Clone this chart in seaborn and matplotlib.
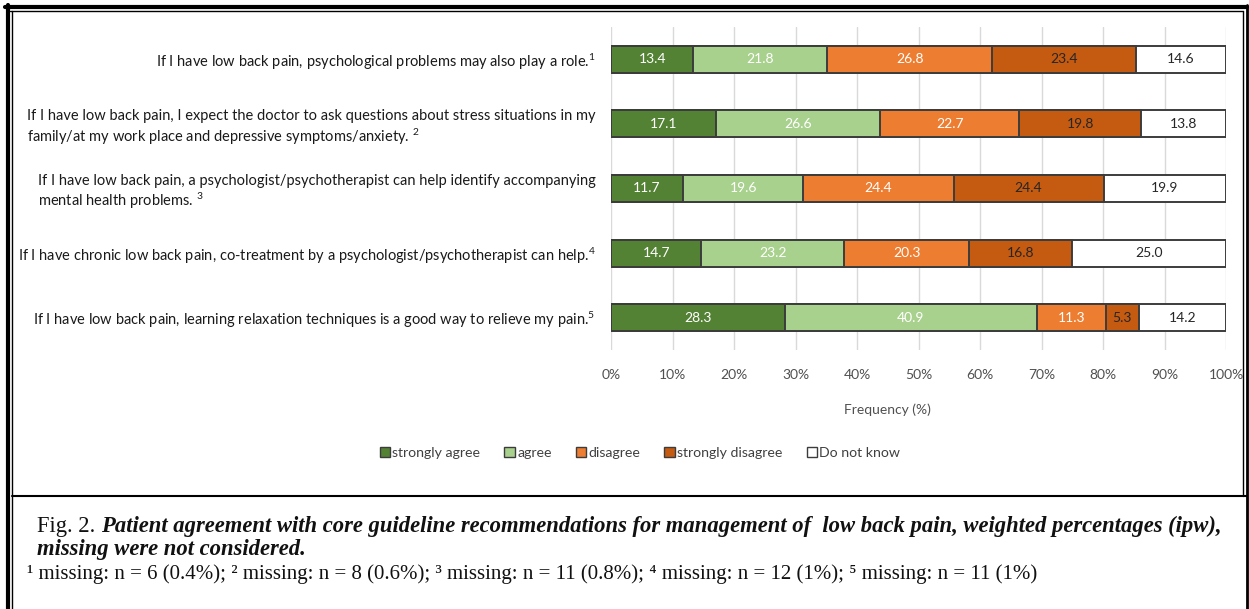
import matplotlib
matplotlib.use("Agg")
import matplotlib.pyplot as plt
from matplotlib.patches import Patch
from matplotlib.lines import Line2D
import seaborn as sns
import numpy as np
import pandas as pd

sns.set_style("white")
plt.rcParams['font.family'] = ['Lato', 'DejaVu Sans']
plt.rcParams['mathtext.fontset'] = 'custom'
plt.rcParams['mathtext.rm'] = 'Lato'
plt.rcParams['mathtext.it'] = 'Lato'

statements = [
    "If I have low back pain, psychological problems may also play a role.$^{1}$",
    "If I have low back pain, I expect the doctor to ask questions about stress situations in my\nfamily/at my work place and depressive symptoms/anxiety. $^{2}$",
    "If I have low back pain, a psychologist/psychotherapist can help identify accompanying\nmental health problems. $^{3}$",
    "If I have chronic low back pain, co-treatment by a psychologist/psychotherapist can help.$^{4}$",
    "If I have low back pain, learning relaxation techniques is a good way to relieve my pain.$^{5}$",
]
categories = ["strongly agree", "agree", "disagree", "strongly disagree", "Do not know"]
strongly_agree = [13.4, 17.1, 11.7, 14.7, 28.3]
agree = [21.8, 26.6, 19.6, 23.2, 40.9]
disagree = [26.8, 22.7, 24.4, 20.3, 11.3]
strongly_disagree = [23.4, 19.8, 24.4, 16.8, 5.3]
do_not_know = [14.6, 13.8, 19.9, 25.0, 14.2]
xtick_labels = ["0%", "10%", "20%", "30%", "40%", "50%", "60%", "70%", "80%", "90%", "100%"]

colors = ["#548235", "#A9D18E", "#ED7D31", "#C55A11", "#FFFFFF"]
text_colors = ["white", "white", "white", "#262626", "#262626"]
edge = "#3c3c3c"

series = [strongly_agree, agree, disagree, strongly_disagree, do_not_know]
vals = np.array(series)            # 5 categories x 5 statements
cum = np.cumsum(vals, axis=0)

W, H = 1249, 609
fig = plt.figure(figsize=(W / 100, H / 100), dpi=100)
ax = fig.add_axes([611 / W, 1 - 350 / H, 615 / W, 323 / H])

# draw cumulative bars from the last category backwards (stacked look)
for i in range(len(categories) - 1, -1, -1):
    df = pd.DataFrame({"statement": statements, "value": cum[i]})
    sns.barplot(data=df, x="value", y="statement", orient="h", color=colors[i],
                saturation=1, edgecolor=edge, linewidth=1.4, width=0.415, ax=ax,
                zorder=3)

# value labels
for i in range(len(categories)):
    for j in range(len(statements)):
        xc = cum[i][j] - vals[i][j] / 2
        ax.text(xc, j, f"{vals[i][j]:.1f}", ha="center", va="center",
                fontsize=10, color=text_colors[i], zorder=5)

ax.set_xlim(0, 100)
ax.set_ylim(4.5, -0.5)
ax.set_xticks(np.arange(0, 101, 10))
ax.set_xticklabels(xtick_labels, fontsize=10, color="#505050")
ax.xaxis.grid(True, color="#d9d9d9", linewidth=1.0, zorder=0)
ax.yaxis.grid(False)
ax.set_axisbelow(True)
for s in ax.spines.values():
    s.set_visible(False)
ax.tick_params(axis="x", length=0, pad=14)
ax.tick_params(axis="y", length=0, pad=11, labelsize=10.5, labelcolor="#1a1a1a")
for lbl in ax.get_yticklabels():
    lbl.set_multialignment("left")
ax.set_ylabel("")
ax.set_xlabel("Frequency (%)", fontsize=10, color="#505050")
ax.xaxis.set_label_coords(0.45, -0.165)

handles = [Patch(facecolor=c, edgecolor=edge, linewidth=1.0) for c in colors]
fig.legend(handles, categories, loc="center", bbox_to_anchor=(640 / W, 1 - 453 / H),
           ncol=5, frameon=False, fontsize=10.2, handlelength=0.75, handleheight=0.75,
           handletextpad=0.15, columnspacing=1.7, labelcolor="#404040")

# frame lines
def fx(x):
    return x / W

def fy(y):
    return 1 - y / H

lines = [
    ((fx(5), fx(1247)), (fy(6.5), fy(6.5)), 3.0),
    ((fx(10), fx(1243)), (fy(11), fy(11)), 1.0),
    ((fx(8), fx(8)), (fy(5), fy(609)), 3.0),
    ((fx(12), fx(12)), (fy(11), fy(609)), 1.0),
    ((fx(1247), fx(1247)), (fy(5), fy(609)), 2.0),
    ((fx(1243), fx(1243)), (fy(11), fy(496)), 1.0),
    ((fx(12), fx(1247)), (fy(496), fy(496)), 1.5),
]
for xs, ys, lw in lines:
    fig.add_artist(Line2D(xs, ys, transform=fig.transFigure, color="black", linewidth=lw))

# caption
serif = ["Liberation Serif", "DejaVu Serif"]
t1 = fig.text(fx(37), fy(532), "Fig. 2. ", family=serif, fontsize=16.3, va="baseline", color="#111111")
ax.annotate("Patient agreement with core guideline recommendations for management of  low back pain, weighted percentages (ipw),",
            xy=(1, 0), xycoords=t1, va="bottom", ha="left", family=serif, fontsize=16.3,
            style="italic", weight="bold", color="#111111", annotation_clip=False)
fig.text(fx(37), fy(555), "missing were not considered.", family=serif, fontsize=16.3,
         style="italic", weight="bold", va="baseline", color="#111111")
fig.text(fx(27), fy(579),
         "¹ missing: n = 6 (0.4%); ² missing: n = 8 (0.6%); ³ missing: n = 11 (0.8%); "
         "⁴ missing: n = 12 (1%); ⁵ missing: n = 11 (1%)",
         family=serif, fontsize=15, va="baseline", color="#111111")

fig.savefig("out.png", dpi=100, facecolor="white")
